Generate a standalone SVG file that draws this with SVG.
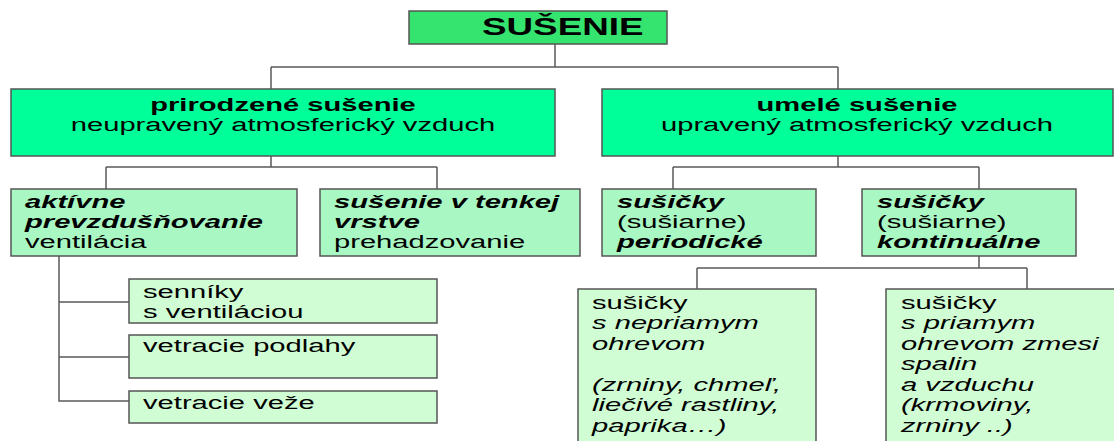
<svg xmlns="http://www.w3.org/2000/svg" width="1114" height="441" viewBox="0 0 1114 441">
<style>
text{font-family:"Liberation Sans",Arial,sans-serif;font-size:18px;fill:#000}
.box{stroke:#555;stroke-width:1.5}
.top{fill:#35E46F}
.l1{fill:#00FF99}
.l2{fill:#A9F7C3}
.l3{fill:#D0FDD3}
.b{font-weight:bold}
.i{font-style:italic}
.bi{font-weight:bold;font-style:italic}
.c{text-anchor:middle}
#connectors path{fill:none;stroke:#5a5a5a;stroke-width:1.5}
</style>
<rect width="1114" height="441" fill="#fff"/>
<g id="connectors">
<path d="M555,44V67M271,67H838M271,67V89M838,67V89"/>
<path d="M271,156V167M106,167H437M106,167V189M437,167V189"/>
<path d="M838,156V167M673,167H979M673,167V189M979,167V189"/>
<path d="M59,256V401H129M59,302H129M59,357H129"/>
<path d="M979,256V268M697,268H1027M697,268V289M1027,268V289"/>
</g>
<g id="n-susenie">
<rect class="box top" x="409" y="11" width="258" height="33"/>
<text class="b" style="font-size:23px" transform="translate(482,35) scale(1.6,1)">SUŠENIE</text>
</g>
<g id="n-prirodzene">
<rect class="box l1" x="11" y="89" width="544" height="67"/>
<text class="c" transform="translate(283,111) scale(1.62,1)"><tspan class="b" x="0" y="0">prirodzené sušenie</tspan><tspan x="0" y="20">neupravený atmosferický vzduch</tspan></text>
</g>
<g id="n-umele">
<rect class="box l1" x="602" y="89" width="511" height="67"/>
<text class="c" transform="translate(857,111) scale(1.62,1)"><tspan class="b" x="0" y="0">umelé sušenie</tspan><tspan x="0" y="20">upravený atmosferický vzduch</tspan></text>
</g>
<g id="n-aktivne">
<rect class="box l2" x="11" y="189" width="286" height="67"/>
<text transform="translate(25,208) scale(1.62,1)"><tspan class="bi" x="0" y="0">aktívne</tspan><tspan class="bi" x="0" y="20">prevzdušňovanie</tspan><tspan x="0" y="40">ventilácia</tspan></text>
</g>
<g id="n-tenkej">
<rect class="box l2" x="320" y="189" width="260" height="67"/>
<text transform="translate(334,208) scale(1.62,1)"><tspan class="bi" x="0" y="0">sušenie v tenkej</tspan><tspan class="bi" x="0" y="20">vrstve</tspan><tspan x="0" y="40">prehadzovanie</tspan></text>
</g>
<g id="n-periodicke">
<rect class="box l2" x="602" y="189" width="214" height="67"/>
<text transform="translate(617,208) scale(1.62,1)"><tspan class="bi" x="0" y="0">sušičky</tspan><tspan x="0" y="20">(sušiarne)</tspan><tspan class="bi" x="0" y="40">periodické</tspan></text>
</g>
<g id="n-kontinualne">
<rect class="box l2" x="862" y="189" width="214" height="67"/>
<text transform="translate(877,208) scale(1.62,1)"><tspan class="bi" x="0" y="0">sušičky</tspan><tspan x="0" y="20">(sušiarne)</tspan><tspan class="bi" x="0" y="40">kontinuálne</tspan></text>
</g>
<g id="n-senniky">
<rect class="box l3" x="129" y="279" width="308" height="44"/>
<text transform="translate(143,298) scale(1.62,1)"><tspan x="0" y="0">senníky</tspan><tspan x="0" y="20">s ventiláciou</tspan></text>
</g>
<g id="n-podlahy">
<rect class="box l3" x="129" y="335" width="308" height="43"/>
<text transform="translate(143,352) scale(1.62,1)">vetracie podlahy</text>
</g>
<g id="n-veze">
<rect class="box l3" x="129" y="391" width="308" height="32"/>
<text transform="translate(143,409) scale(1.62,1)">vetracie veže</text>
</g>
<g id="n-nepriamy">
<rect class="box l3" x="578" y="289" width="238" height="170"/>
<text transform="translate(592,309) scale(1.62,1)"><tspan x="0" y="0">sušičky</tspan><tspan class="i" x="0" y="20.5">s nepriamym</tspan><tspan class="i" x="0" y="41">ohrevom</tspan><tspan class="i" x="0" y="82">(zrniny, chmeľ,</tspan><tspan class="i" x="0" y="102.5">liečivé rastliny,</tspan><tspan class="i" x="0" y="123">paprika…)</tspan></text>
</g>
<g id="n-priamy">
<rect class="box l3" x="886" y="289" width="240" height="170"/>
<text transform="translate(901,309) scale(1.62,1)"><tspan x="0" y="0">sušičky</tspan><tspan class="i" x="0" y="20.5">s priamym</tspan><tspan class="i" x="0" y="41">ohrevom zmesi</tspan><tspan class="i" x="0" y="61.5">spalin</tspan><tspan class="i" x="0" y="82">a vzduchu</tspan><tspan class="i" x="0" y="102.5">(krmoviny,</tspan><tspan class="i" x="0" y="123">zrniny ..)</tspan></text>
</g>
</svg>
